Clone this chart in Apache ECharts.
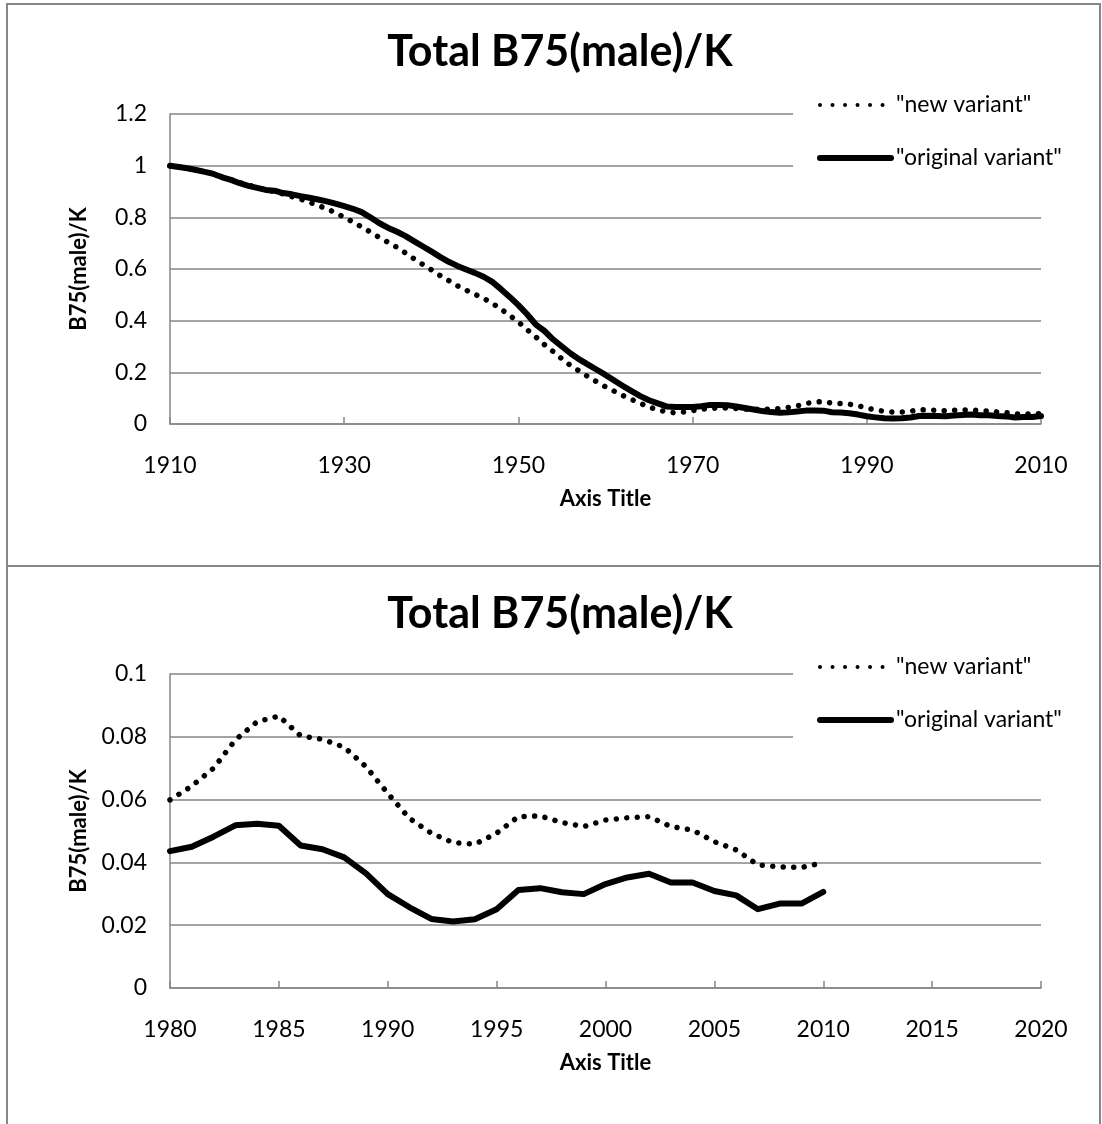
<!DOCTYPE html>
<html><head><meta charset="utf-8">
<script src="https://cdn.jsdelivr.net/npm/echarts@6/dist/echarts.min.js"></script>
<style>html,body{margin:0;padding:0;background:#fff}#c{width:1102px;height:1124px}</style>
</head><body><div id="c"></div>
<script>
const titleText = 'Total B75(male)/K';
const yAxisName = 'B75(male)/K';
const xAxisName = 'Axis Title';
const seriesNames = ['"new variant"', '"original variant"'];

const yearsEarly = [1910,1911,1912,1913,1914,1915,1916,1917,1918,1919,
  1920,1921,1922,1923,1924,1925,1926,1927,1928,1929,
  1930,1931,1932,1933,1934,1935,1936,1937,1938,1939,
  1940,1941,1942,1943,1944,1945,1946,1947,1948,1949,
  1950,1951,1952,1953,1954,1955,1956,1957,1958,1959,
  1960,1961,1962,1963,1964,1965,1966,1967,1968,1969,
  1970,1971,1972,1973,1974,1975,1976,1977,1978,1979];
const yearsRecent = [1980,1981,1982,1983,1984,1985,1986,1987,1988,1989,
  1990,1991,1992,1993,1994,1995,1996,1997,1998,1999,
  2000,2001,2002,2003,2004,2005,2006,2007,2008,2009,2010];

const newEarly = [1.000,0.995,0.990,0.983,0.976,0.968,0.956,0.946,0.934,0.925,
  0.915,0.907,0.900,0.890,0.880,0.870,0.858,0.846,0.833,0.818,
  0.800,0.782,0.763,0.743,0.723,0.704,0.685,0.663,0.640,0.618,
  0.597,0.575,0.555,0.535,0.518,0.502,0.487,0.467,0.445,0.420,
  0.395,0.365,0.337,0.307,0.280,0.252,0.226,0.205,0.183,0.163,
  0.144,0.127,0.110,0.095,0.080,0.066,0.055,0.047,0.043,0.047,
  0.052,0.057,0.060,0.062,0.062,0.060,0.058,0.057,0.057,0.058];
const origEarly = [1.000,0.995,0.990,0.983,0.976,0.968,0.955,0.945,0.932,0.922,
  0.914,0.906,0.903,0.894,0.889,0.882,0.876,0.869,0.862,0.853,
  0.843,0.833,0.820,0.800,0.778,0.760,0.745,0.728,0.708,0.688,
  0.668,0.647,0.628,0.612,0.598,0.585,0.570,0.550,0.522,0.492,
  0.460,0.425,0.385,0.360,0.327,0.300,0.273,0.250,0.230,0.210,
  0.190,0.168,0.147,0.127,0.108,0.092,0.080,0.068,0.066,0.066,
  0.066,0.069,0.074,0.074,0.073,0.068,0.062,0.056,0.050,0.046];

const newRecent = [0.0599,0.0643,0.0700,0.0790,0.0848,0.0866,0.0803,0.0792,0.0767,0.0705,
  0.0620,0.0540,0.0493,0.0463,0.0458,0.0493,0.0546,0.0548,0.0527,0.0514,
  0.0535,0.0542,0.0546,0.0514,0.0503,0.0466,0.0440,0.0392,0.0386,0.0384,0.0399];
const origRecent = [0.0436,0.0450,0.0482,0.0518,0.0523,0.0517,0.0454,0.0442,0.0416,0.0365,
  0.0299,0.0257,0.0220,0.0212,0.0219,0.0251,0.0312,0.0318,0.0305,0.0299,
  0.0331,0.0352,0.0364,0.0336,0.0336,0.0309,0.0295,0.0251,0.0269,0.0269,0.0306];

const topX = {min:1910, max:2010, interval:20};
const topY = {min:0, max:1.2, interval:0.2};
const botX = {min:1980, max:2020, interval:5};
const botY = {min:0, max:0.1, interval:0.02};

function pairs(xs, ys){ return xs.map((x,i)=>[x, ys[i]]); }
const yearsAll = yearsEarly.concat(yearsRecent);
const topNew = pairs(yearsAll, newEarly.concat(newRecent));
const topOrig = pairs(yearsAll, origEarly.concat(origRecent));
const botNew = pairs(yearsRecent, newRecent);
const botOrig = pairs(yearsRecent, origRecent);

const FONT = 'Lato';
const GRAY = '#868686';
const dotStyle = {color:'#000', width:5.5, type:[0.01, 10.5], cap:'round', join:'round'};
const solidStyle = {color:'#000', width:6, type:'solid', cap:'round', join:'round'};

function xAxis(cfg, gi){
  return {type:'value', gridIndex:gi, min:cfg.min, max:cfg.max, interval:cfg.interval,
    name:xAxisName, nameLocation:'middle', nameGap:64,
    nameTextStyle:{fontFamily:FONT, fontWeight:'bold', fontSize:22, color:'#000'},
    axisLine:{show:true, lineStyle:{color:GRAY, width:1.5}},
    axisTick:{show:true, inside:true, length:7, lineStyle:{color:GRAY, width:1.5}},
    axisLabel:{fontFamily:FONT, fontSize:23, color:'#000', margin:30, formatter:v=>String(v)},
    splitLine:{show:false}};
}
function yAxis(cfg, gi, dec){
  return {type:'value', gridIndex:gi, min:cfg.min, max:cfg.max, interval:cfg.interval,
    name:yAxisName, nameLocation:'middle', nameGap:80, nameRotate:90,
    nameTextStyle:{fontFamily:FONT, fontWeight:'bold', fontSize:22, color:'#000'},
    axisLine:{show:true, lineStyle:{color:GRAY, width:1.5}},
    axisTick:{show:false},
    axisLabel:{fontFamily:FONT, fontSize:23, color:'#000', margin:23,
      formatter:v=>String(Math.round(v*dec)/dec)},
    splitLine:{show:true, lineStyle:{color:GRAY, width:1.5}}};
}
const hiddenSymbol = {color:'rgba(0,0,0,0)', borderWidth:0, opacity:0};
function legend(top){
  return {orient:'vertical', left:793, top:top, padding:[14,30,14,24],
    backgroundColor:'#fff', itemWidth:71, itemHeight:14, itemGap:27,
    textStyle:{fontFamily:FONT, fontSize:23, color:'#000', lineHeight:26},
    data:[{name:seriesNames[0], itemStyle:hiddenSymbol, lineStyle:{width:4, type:[0.01,12.5], cap:'round', color:'#000', opacity:1}},
          {name:seriesNames[1], itemStyle:hiddenSymbol, lineStyle:{width:6, type:'solid', cap:'round', color:'#000', opacity:1}}]};
}

const chart = echarts.init(document.getElementById('c'), null, {renderer:'canvas'});
chart.setOption({
  animation:false,
  backgroundColor:'#fff',
  title:[
    {text:titleText, left:560, textAlign:'center', top:31, padding:0,
     textStyle:{fontFamily:FONT, fontWeight:'bold', fontSize:43, color:'#000'}},
    {text:titleText, left:560, textAlign:'center', top:593, padding:0,
     textStyle:{fontFamily:FONT, fontWeight:'bold', fontSize:43, color:'#000'}}
  ],
  legend:[legend(78), legend(640)],
  grid:[
    {left:170, top:114, width:871, height:310},
    {left:170, top:674, width:871, height:314}
  ],
  xAxis:[xAxis(topX,0), xAxis(botX,1)],
  yAxis:[yAxis(topY,0,10), yAxis(botY,1,100)],
  graphic:[
    {type:'rect', silent:true, z:-10, shape:{x:7, y:4, width:1093, height:562}, style:{fill:'none', stroke:GRAY, lineWidth:2}},
    {type:'rect', silent:true, z:-10, shape:{x:7, y:566, width:1093, height:600}, style:{fill:'none', stroke:GRAY, lineWidth:2}}
  ],
  series:[
    {name:seriesNames[0], type:'line', xAxisIndex:0, yAxisIndex:0, data:topNew, showSymbol:false, symbol:'none', lineStyle:dotStyle, itemStyle:{color:'#000'}},
    {name:seriesNames[1], type:'line', xAxisIndex:0, yAxisIndex:0, data:topOrig, showSymbol:false, symbol:'none', lineStyle:solidStyle, itemStyle:{color:'#000'}},
    {name:seriesNames[0], type:'line', xAxisIndex:1, yAxisIndex:1, data:botNew, showSymbol:false, symbol:'none', lineStyle:dotStyle, itemStyle:{color:'#000'}},
    {name:seriesNames[1], type:'line', xAxisIndex:1, yAxisIndex:1, data:botOrig, showSymbol:false, symbol:'none', lineStyle:solidStyle, itemStyle:{color:'#000'}}
  ]
});
</script></body></html>
